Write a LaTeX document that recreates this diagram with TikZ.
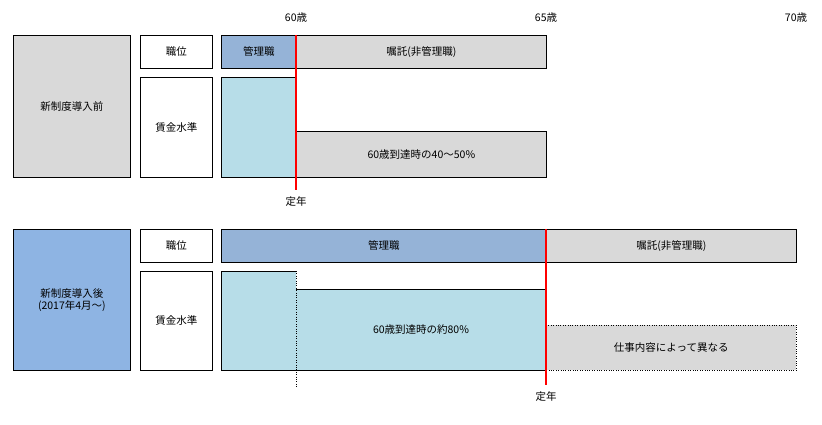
\documentclass[tikz,border=0pt]{standalone}
\usepackage{fontspec}
\setmainfont{Noto Sans CJK JP}
\begin{document}
\begin{tikzpicture}[x=1pt,y=-1pt,font=\fontsize{10.5}{12}\selectfont,
 bx/.style={draw=black,line width=0.8pt},
 gr/.style={bx,fill=gray!30},
 bl/.style={bx,fill={rgb,255:red,149;green,179;blue,215}},
 lb/.style={fill={rgb,255:red,183;green,221;blue,232}},
 redl/.style={draw=red,line width=2pt}]
\useasboundingbox (0,0) rectangle (822,425);
% top
\node[gr,minimum width=117,minimum height=142,anchor=north west] (a1) at (13,35) {新制度導入前};
\node[bx,minimum width=72,minimum height=33,anchor=north west] (a2) at (140,35) {職位};
\node[bx,minimum width=72,minimum height=100,anchor=north west] (a3) at (140,77) {賃金水準};
\node[bl,minimum width=75,minimum height=33,anchor=north west,inner sep=0] (a4) at (221,35) {管理職};
\node[gr,minimum width=250,minimum height=33,anchor=north west] (a5) at (296,35) {嘱託(非管理職)};
\node[bx,lb,minimum width=75,minimum height=100,anchor=north west] (a6) at (221,77) {};
\node[gr,minimum width=250,minimum height=46,anchor=north west] (a7) at (296,131) {60歳到達時の40〜50\%};
\coordinate (r1a) at (296,35); \coordinate (r1b) at (296,190);
\draw[redl] (r1a) -- (r1b);
\node (t1) at (296,202) {定年};
\node (l60) at (296,18) {60歳};
\node (l65) at (546,18) {65歳};
\node (l70) at (796,18) {70歳};
% bottom
\node[bx,fill={rgb,255:red,142;green,180;blue,227},minimum width=117,minimum height=141,anchor=north west,align=center] (b1) at (13,229) {新制度導入後\\(2017年4月〜)};
\node[bx,minimum width=72,minimum height=33,anchor=north west] (b2) at (140,229) {職位};
\node[bx,minimum width=72,minimum height=99,anchor=north west] (b3) at (140,271) {賃金水準};
\node[bl,minimum width=325,minimum height=33,anchor=north west] (b4) at (221,229) {管理職};
\node[gr,minimum width=250,minimum height=33,anchor=north west] (b5) at (546,229) {嘱託(非管理職)};
\fill[lb] (221,271) -- (296,271) -- (296,289) -- (546,289) -- (546,370) -- (221,370) -- cycle;
\draw[line width=0.8pt] (296,271) -- (221,271) -- (221,370) -- (546,370) -- (546,289) -- (296,289);
\draw[dotted] (296,271) -- (296,388);
\node (b6) at (421,330) {60歳到達時の約80\%};
\node[draw=black,dotted,fill=gray!30,minimum width=250,minimum height=45,anchor=north west] (b7) at (546,325) {仕事内容によって異なる};
\coordinate (r2a) at (546,229); \coordinate (r2b) at (546,385);
\draw[redl] (r2a) -- (r2b);
\node (t2) at (546,397) {定年};
\end{tikzpicture}
\end{document}
